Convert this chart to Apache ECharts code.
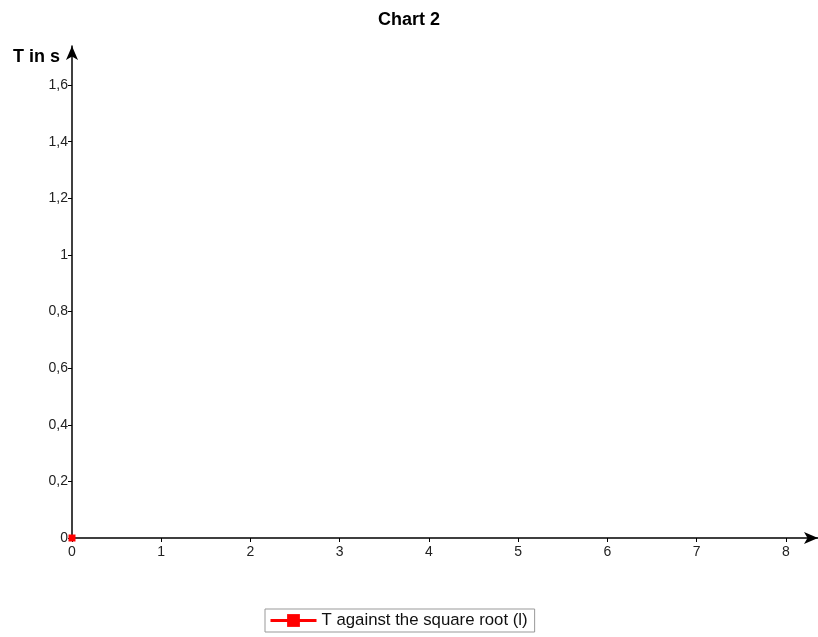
<!DOCTYPE html>
<html>
<head>
<meta charset="utf-8">
<script src="https://cdn.jsdelivr.net/npm/echarts@6/dist/echarts.min.js"></script>
<style>html,body{margin:0;padding:0;background:#fff;}#c{width:818px;height:637px;}</style>
</head>
<body>
<div id="c"></div>
<script>
const titleText = 'Chart 2';
const seriesName = 'T against the square root (l)';
const yAxisName = 'T in s';
const xTicks = [0, 1, 2, 3, 4, 5, 6, 7, 8];
const yTicks = [0, 0.2, 0.4, 0.6, 0.8, 1, 1.2, 1.4, 1.6];
const xValues = [0];
const yValues = [0];

const chart = echarts.init(document.getElementById('c'));
const fmt = v => String(Math.round(v * 10) / 10).replace('.', ',');
chart.setOption({
  animation: false,
  title: {
    text: titleText, left: 'center', top: 6,
    textStyle: { fontFamily: 'Liberation Sans', fontSize: 18, fontWeight: 'bold', color: '#000' }
  },
  grid: { left: 72, right: 0, top: 46, bottom: 99, containLabel: false },
  legend: {
    left: 265, top: 609,
    padding: [3, 7, 3, 4],
    itemGap: 6,
    borderColor: '#999', borderWidth: 1, borderRadius: 0,
    itemWidth: 46, itemHeight: 16,
    lineStyle: { width: 3 },
    textStyle: { fontFamily: 'Liberation Sans', fontSize: 16.8, color: '#111' },
    data: [seriesName]
  },
  xAxis: {
    type: 'value', min: 0, max: 8.36,
    axisLine: { show: true, onZero: false, symbol: ['none', 'arrow'], symbolSize: [9, 14], lineStyle: { color: '#000', width: 1.5 } },
    axisTick: { show: true, length: 4, inside: false, customValues: xTicks, lineStyle: { color: '#000' } },
    axisLabel: { customValues: xTicks, margin: 7, fontFamily: 'Liberation Sans', fontSize: 14, color: '#222', formatter: v => String(v) },
    splitLine: { show: false }
  },
  yAxis: {
    type: 'value', min: 0, max: 1.738,
    name: yAxisName, nameLocation: 'end', nameGap: 0,
    nameTextStyle: { fontFamily: 'Liberation Sans', fontSize: 18, fontWeight: 'bold', color: '#000', align: 'right', verticalAlign: 'top', padding: [2, 12, 0, 0] },
    axisLine: { show: true, onZero: false, symbol: ['none', 'arrow'], symbolSize: [9, 14], lineStyle: { color: '#000', width: 1.5 } },
    axisTick: { show: true, length: 4, inside: false, customValues: yTicks, lineStyle: { color: '#000' } },
    axisLabel: { customValues: yTicks, margin: 4, fontFamily: 'Liberation Sans', fontSize: 14, color: '#222', formatter: fmt },
    splitLine: { show: false }
  },
  series: [{
    name: seriesName, type: 'line',
    data: xValues.map((x, i) => [x, yValues[i]]),
    symbol: 'rect', symbolSize: 7, showSymbol: true, clip: false,
    itemStyle: { color: '#ff0000' },
    lineStyle: { color: '#ff0000', width: 3 }
  }]
});
</script>
</body>
</html>
